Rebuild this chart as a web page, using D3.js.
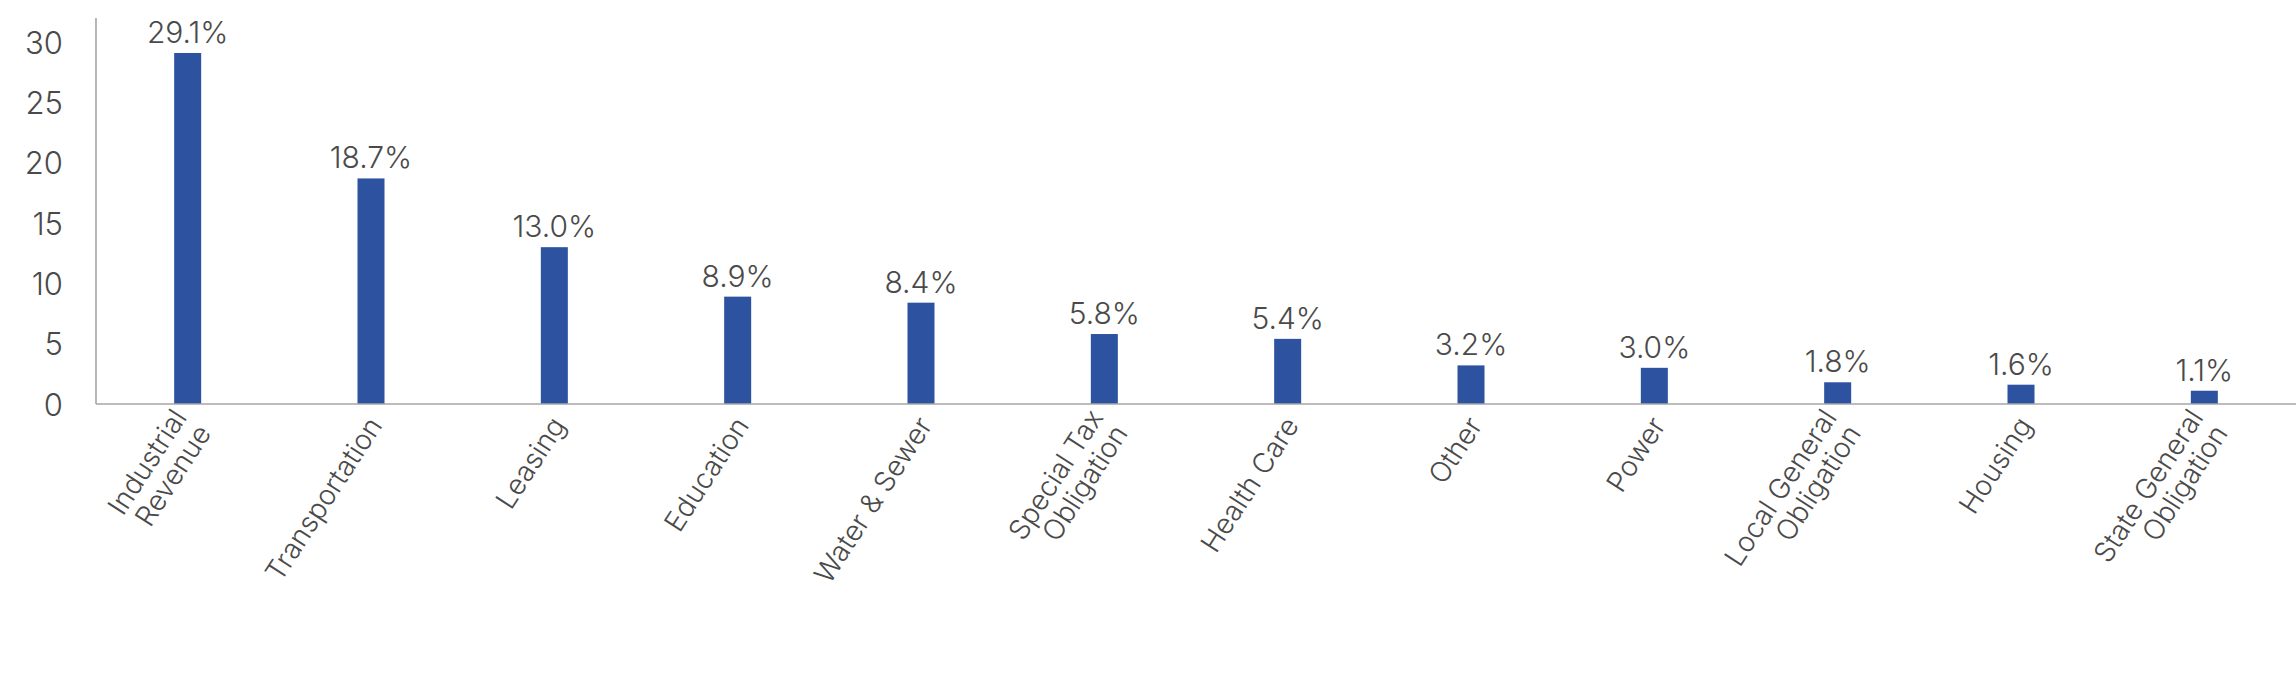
<!DOCTYPE html>
<html lang="en">
<head>
<meta charset="UTF-8">
<title>Sector breakdown</title>
<script src="https://d3js.org/d3.v7.min.js"></script>
<style>
  html, body { margin: 0; padding: 0; background: #fff; }
  svg text { font-family: Inter, "Open Sans", sans-serif; font-weight: 300; fill: #4a4a4a; }
</style>
</head>
<body>
<div id="chart"></div>
<script>
// chart data
const categories = [
  ["Industrial", "Revenue"], ["Transportation"], ["Leasing"], ["Education"],
  ["Water & Sewer"], ["Special Tax", "Obligation"], ["Health Care"], ["Other"],
  ["Power"], ["Local General", "Obligation"], ["Housing"], ["State General", "Obligation"]
];
const values = [29.1, 18.7, 13.0, 8.9, 8.4, 5.8, 5.4, 3.2, 3.0, 1.8, 1.6, 1.1];
const yTicks = [0, 5, 10, 15, 20, 25, 30];

const width = 2296, height = 692;
const left = 96, baseY = 404, topY = 18;

const svg = d3.select("#chart").append("svg")
  .attr("width", width)
  .attr("height", height);

const keys = categories.map(c => c.join(" "));

const xScale = d3.scaleBand()
  .domain(keys)
  .range([left, width])
  .padding(0);

const yScale = d3.scaleLinear()
  .domain([0, 32])
  .range([baseY, topY]);

// y axis: labels only, plus the line
const yAxis = d3.axisLeft(yScale)
  .tickValues(yTicks)
  .tickSize(0)
  .tickPadding(33);

const gy = svg.append("g")
  .attr("transform", "translate(" + left + ",0)")
  .call(yAxis);
gy.select(".domain").remove();
gy.selectAll("text")
  .style("font-size", "31px")
  .attr("dy", "0.36em");

svg.append("line")
  .attr("x1", left).attr("x2", left)
  .attr("y1", topY).attr("y2", baseY)
  .attr("stroke", "#a6a6a6").attr("stroke-width", 1.6);

// bars
const barW = 27;
svg.selectAll("rect.bar")
  .data(values)
  .enter().append("rect")
  .attr("class", "bar")
  .attr("x", (d, i) => xScale(keys[i]) + xScale.bandwidth() / 2 - barW / 2)
  .attr("y", d => yScale(d))
  .attr("width", barW)
  .attr("height", d => baseY - yScale(d))
  .attr("fill", "#2c52a0");

// value labels
svg.selectAll("text.val")
  .data(values)
  .enter().append("text")
  .attr("class", "val")
  .attr("x", (d, i) => xScale(keys[i]) + xScale.bandwidth() / 2)
  .attr("y", d => yScale(d) - 10)
  .attr("text-anchor", "middle")
  .style("font-size", "30px")
  .text(d => d.toFixed(1) + "%");

// x axis line
svg.append("line")
  .attr("x1", left).attr("x2", width)
  .attr("y1", baseY).attr("y2", baseY)
  .attr("stroke", "#a6a6a6").attr("stroke-width", 1.6);

// rotated category labels
const lineH = 29;
const lab = svg.selectAll("g.cat")
  .data(categories)
  .enter().append("g")
  .attr("class", "cat")
  .attr("transform", (d, i) =>
    "translate(" + (xScale(keys[i]) + xScale.bandwidth() / 2 + 4) + "," + (baseY + 16) + ") rotate(-57)");

lab.each(function(lines) {
  const t = d3.select(this).append("text")
    .attr("text-anchor", "end")
    .style("font-size", "28px");
  lines.forEach((s, j) => {
    t.append("tspan")
      .attr("x", 0)
      .attr("y", (j - (lines.length - 1) / 2) * lineH)
      .attr("dy", "0.35em")
      .text(s);
  });
});
</script>
</body>
</html>
